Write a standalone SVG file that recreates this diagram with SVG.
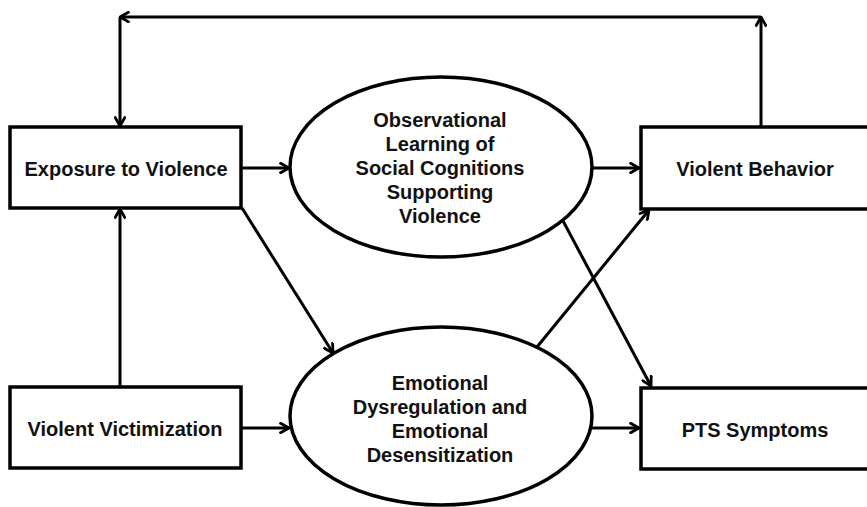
<svg xmlns="http://www.w3.org/2000/svg" width="867" height="507" viewBox="0 0 867 507">
<defs>
<marker id="arr" viewBox="0 0 12 12" refX="10.5" refY="6" markerWidth="12" markerHeight="12" markerUnits="userSpaceOnUse" orient="auto">
<path d="M1,0.6 L10.5,6 L1,11.4" fill="none" stroke="#000" stroke-width="2.8" stroke-linejoin="miter"/>
</marker>
<style>
.box{fill:#fff;stroke:#000;stroke-width:3.5}
.ell{fill:#fff;stroke:#000;stroke-width:3.5}
.c{fill:none;stroke:#000;stroke-width:3;marker-end:url(#arr)}
text{font-family:"Liberation Sans",Arial,Helvetica,sans-serif;font-weight:bold;font-size:20px;fill:#111;text-anchor:middle}
</style>
</defs>
<rect width="867" height="507" fill="#fff"/>
<g id="connectors">
<line class="c" x1="761" y1="127" x2="761" y2="17"/>
<line class="c" x1="761" y1="17" x2="120" y2="17"/>
<line class="c" x1="120" y1="17" x2="120" y2="126"/>
<line class="c" x1="120" y1="387" x2="120" y2="209"/>
<line class="c" x1="242" y1="168" x2="289" y2="168"/>
<line class="c" x1="592" y1="168" x2="639" y2="168"/>
<line class="c" x1="242" y1="428" x2="289" y2="428"/>
<line class="c" x1="592" y1="428" x2="639" y2="428"/>
<line class="c" x1="242" y1="208" x2="333" y2="353"/>
<line class="c" x1="537" y1="347" x2="649" y2="210"/>
<line class="c" x1="562" y1="219" x2="651" y2="386"/>
</g>
<g id="exposure">
<rect class="box" x="10" y="127" width="231" height="81"/>
<text x="126" y="176">Exposure to Violence</text>
</g>
<g id="victimization">
<rect class="box" x="10" y="387" width="231" height="81"/>
<text x="125" y="436">Violent Victimization</text>
</g>
<g id="behavior">
<rect class="box" x="641" y="127" width="231" height="82"/>
<text x="755" y="176">Violent Behavior</text>
</g>
<g id="pts">
<rect class="box" x="641" y="388" width="231" height="81"/>
<text x="755" y="437">PTS Symptoms</text>
</g>
<g id="observational">
<ellipse class="ell" cx="441" cy="167" rx="151" ry="90"/>
<text x="440" y="127">Observational</text>
<text x="440" y="151">Learning of</text>
<text x="440" y="175">Social Cognitions</text>
<text x="440" y="199">Supporting</text>
<text x="440" y="223">Violence</text>
</g>
<g id="emotional">
<ellipse class="ell" cx="441" cy="416" rx="151" ry="89"/>
<text x="440" y="390">Emotional</text>
<text x="440" y="414">Dysregulation and</text>
<text x="440" y="438">Emotional</text>
<text x="440" y="462">Desensitization</text>
</g>
</svg>
